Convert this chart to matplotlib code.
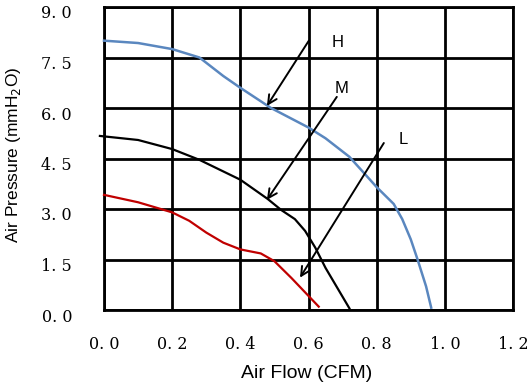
import matplotlib
matplotlib.use("Agg")
import matplotlib.pyplot as plt
import matplotlib.transforms as mtransforms

# Data
h_flow = [0.0, 0.1, 0.2, 0.28, 0.35, 0.4, 0.49, 0.6, 0.65, 0.72, 0.8, 0.85, 0.875, 0.9, 0.92, 0.945, 0.96]
h_pres = [8.0, 7.93, 7.75, 7.5, 6.95, 6.6, 6.0, 5.42, 5.1, 4.55, 3.65, 3.15, 2.7, 2.1, 1.5, 0.7, 0.07]
m_flow = [-0.012, 0.1, 0.2, 0.28, 0.4, 0.48, 0.52, 0.56, 0.59, 0.62, 0.65, 0.72]
m_pres = [5.17, 5.05, 4.78, 4.46, 3.87, 3.3, 2.97, 2.7, 2.35, 1.85, 1.25, 0.05]
l_flow = [0.0, 0.1, 0.2, 0.25, 0.3, 0.35, 0.4, 0.46, 0.5, 0.55, 0.63]
l_pres = [3.42, 3.2, 2.9, 2.65, 2.3, 2.0, 1.8, 1.68, 1.45, 0.95, 0.1]

labels = ["H", "M", "L"]
arrow_start = [(0.601, 8.0), (0.683, 6.33), (0.821, 4.96)]
arrow_tip = [(0.478, 6.06), (0.478, 3.27), (0.575, 0.96)]
label_pos = [(0.686, 7.96), (0.698, 6.57), (0.877, 5.05)]

x_ticks = [0.0, 0.2, 0.4, 0.6, 0.8, 1.0, 1.2]
x_ticklabels = ["0. 0", "0. 2", "0. 4", "0. 6", "0. 8", "1. 0", "1. 2"]
y_ticks = [0.0, 1.5, 3.0, 4.5, 6.0, 7.5, 9.0]
y_ticklabels = ["0. 0", "1. 5", "3. 0", "4. 5", "6. 0", "7. 5", "9. 0"]

fig = plt.figure(figsize=(5.29, 3.85), dpi=100)
ax = fig.add_axes([104/529, 1 - 310/385, (513-104)/529, (310-7)/385])
ax.set_xlim(0, 1.2)
ax.set_ylim(0, 9.0)

for t in x_ticks:
    ax.axvline(t, color="black", lw=2.0, zorder=1)
for t in y_ticks:
    ax.axhline(t, color="black", lw=2.0, zorder=1)
for s in ax.spines.values():
    s.set_linewidth(2.0)

ax.plot(h_flow, h_pres, color="#5a87bf", lw=1.8, zorder=3, clip_on=False)
ax.plot(m_flow, m_pres, color="black", lw=1.6, zorder=3, clip_on=False)
ax.plot(l_flow, l_pres, color="#c00000", lw=1.6, zorder=3, clip_on=False)

for lab, s, t, p in zip(labels, arrow_start, arrow_tip, label_pos):
    ax.annotate("", xy=t, xytext=s,
                arrowprops=dict(arrowstyle="->", color="black", lw=1.4,
                                mutation_scale=16, shrinkA=0, shrinkB=0), zorder=4)
    ax.text(p[0], p[1], lab, fontsize=12, ha="center", va="center",
            family="Liberation Sans", zorder=5)

ax.set_xticks(x_ticks)
ax.set_xticklabels(x_ticklabels, family="DejaVu Serif", fontsize=11.5)
ax.set_yticks(y_ticks)
ax.set_yticklabels(y_ticklabels, family="DejaVu Serif", fontsize=11.5)
ax.tick_params(length=0)
ax.tick_params(axis="y", pad=23)
ax.tick_params(axis="x", pad=19)
offset = mtransforms.ScaledTranslation(0, -5/100, fig.dpi_scale_trans)
for lbl in ax.get_yticklabels():
    lbl.set_transform(lbl.get_transform() + offset)

fig.text(307/529, 1 - 373/385, "Air Flow (CFM)", ha="center", va="center",
         fontsize=14, family="Liberation Sans")
fig.text(14/529, 1 - 155/385, "Air Pressure (mmH$_2$O)", ha="center", va="center",
         rotation=90, fontsize=12.5, family="Liberation Sans")

fig.savefig("out.png", dpi=100)
